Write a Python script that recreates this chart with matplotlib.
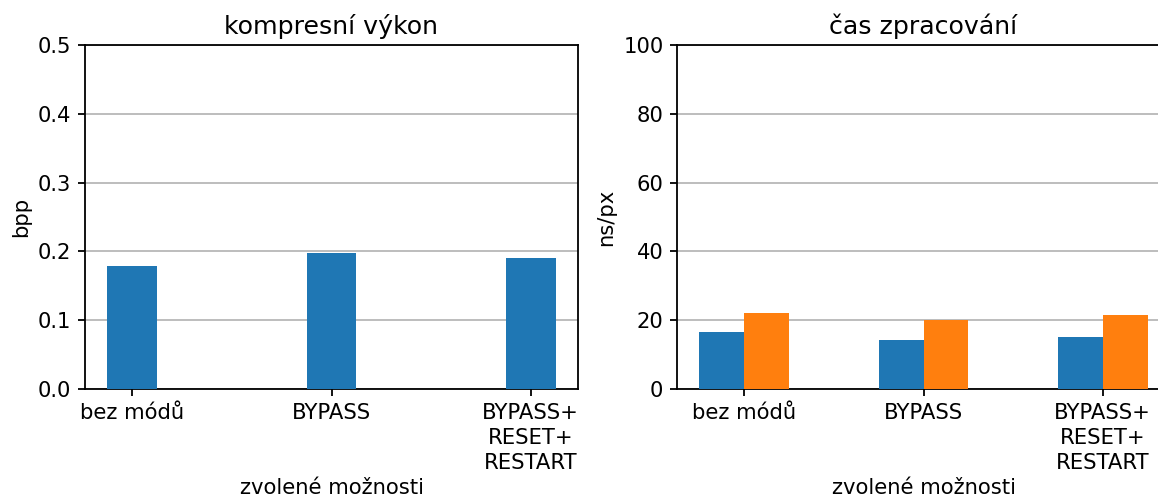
import matplotlib
matplotlib.use("Agg")
import matplotlib.pyplot as plt
import numpy as np

categories = ["bez módů", "BYPASS", "BYPASS+\nRESET+\nRESTART"]
bpp = [0.179, 0.198, 0.191]
time_blue = [16.7, 14.1, 15.0]
time_orange = [22.2, 20.2, 21.4]

dpi = 130
plt.rcParams.update({
    "font.size": 11.7,
    "axes.linewidth": 1.0,
    "xtick.major.width": 1.0,
    "ytick.major.width": 1.0,
    "xtick.major.size": 4.0,
    "ytick.major.size": 4.0,
})
fig = plt.figure(figsize=(1158 / dpi, 497 / dpi), dpi=dpi)

ax1 = fig.add_axes([85 / 1158, 108 / 497, 493 / 1158, 344 / 497])
ax2 = fig.add_axes([677 / 1158, 108 / 497, 493 / 1158, 344 / 497])

x = np.arange(len(categories))
w = 0.25

ax1.bar(x, bpp, width=w, color="#1f77b4", zorder=3)
ax1.set_ylim(0, 0.5)
ax1.set_xlim(-0.2375, 2.2375)
ax1.set_yticks([0.0, 0.1, 0.2, 0.3, 0.4, 0.5])
ax1.set_xticks(x)
ax1.set_xticklabels(categories, linespacing=1.32)
ax1.set_title("kompresní výkon", fontsize=14)
ax1.set_ylabel("bpp")
ax1.set_xlabel("zvolené možnosti", labelpad=2.8)
ax1.yaxis.grid(True, color="#b0b0b0", linewidth=0.9, zorder=0)
ax1.set_axisbelow(True)

ax2.bar(x - w / 2, time_blue, width=w, color="#1f77b4", zorder=3)
ax2.bar(x + w / 2, time_orange, width=w, color="#ff7f0e", zorder=3)
ax2.set_ylim(0, 100)
ax2.set_xlim(-0.375, 2.375)
ax2.set_yticks([0, 20, 40, 60, 80, 100])
ax2.set_xticks(x)
ax2.set_xticklabels(categories, linespacing=1.32)
ax2.set_title("čas zpracování", fontsize=14)
ax2.set_ylabel("ns/px")
ax2.set_xlabel("zvolené možnosti", labelpad=2.8)
ax2.yaxis.grid(True, color="#b0b0b0", linewidth=0.9, zorder=0)
ax2.set_axisbelow(True)

fig.savefig("out.png", dpi=dpi)
